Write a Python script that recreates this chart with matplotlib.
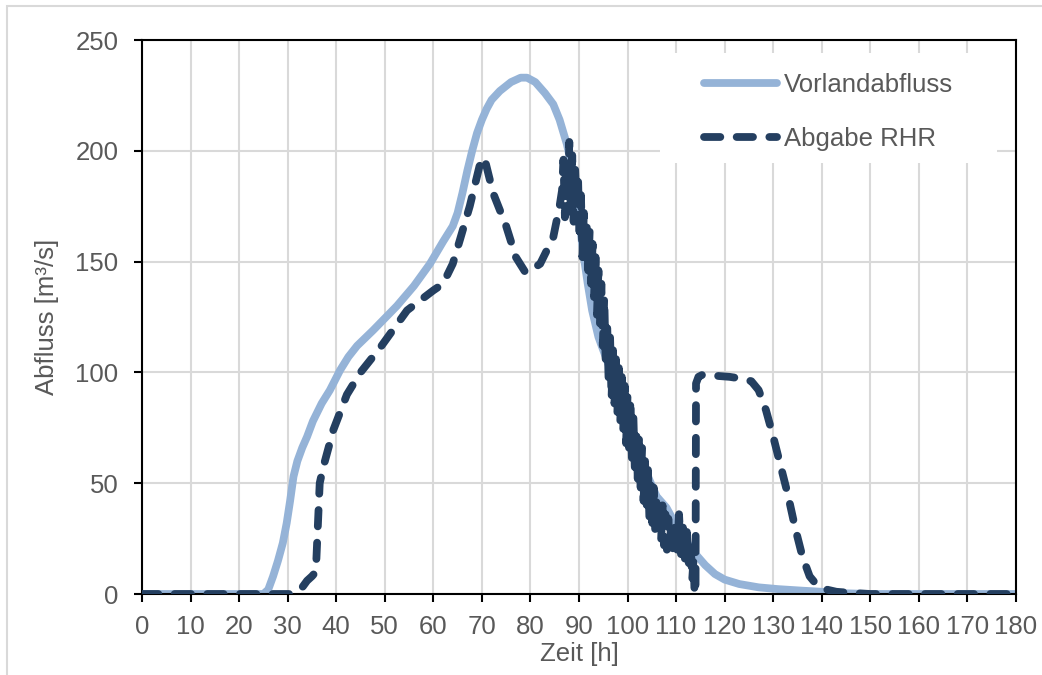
import matplotlib
matplotlib.use("Agg")
import matplotlib.pyplot as plt
from matplotlib.patches import Rectangle
from matplotlib.lines import Line2D

plt.rcParams["font.family"] = ["Liberation Sans", "DejaVu Sans"]

# Vorlandabfluss (Stunden, m³/s)
vorland_t = [0, 25, 26, 27, 28, 29, 29.8, 30.5, 31.2, 32, 33, 34, 35.2, 37,
             38.7, 40.8, 42.5, 44.3, 47.6, 52.5, 56, 59.3, 62, 64, 65, 66, 67,
             68, 69, 70, 71, 72, 73.7, 76, 78, 79.3, 81, 83, 84.7, 86, 87.5,
             88.5, 90, 90.8, 91.8, 92.7, 94, 96, 98, 100, 102, 104, 106, 108,
             110, 112, 114, 116, 118, 120, 123, 127, 131, 136, 140, 145, 150,
             180]
vorland_q = [0, 0, 2, 8, 15, 23, 32, 42, 53, 60, 66, 71, 78, 86,
             92, 101, 107, 112, 119, 130, 139, 149, 159, 166, 172, 181, 191,
             200, 208, 214, 219, 223, 227, 231, 233, 233, 231, 226, 221, 214, 203,
             193, 170, 155, 140, 128, 116, 104, 92, 80, 67, 54, 44, 39,
             31, 24, 18, 13, 9, 6.5, 4.5, 3, 2.2, 1.5, 1, 0.3, 0,
             0]

# Abgabe RHR (Stunden, m³/s)
rhr_t = [0, 31, 32, 33, 34, 35, 35.8, 36.2, 36.6, 37.3, 39.4, 42.2, 45, 49,
         54.6, 60, 62, 64, 65.5, 67.5, 69.5, 70.5, 72.3, 75, 77, 79, 80, 82,
         84.7, 86.0, 86.5, 86.8, 87.1, 87.4, 87.7, 88.0, 88.3, 88.6, 88.9,
         89.2, 89.5, 89.8, 90.1, 90.4, 90.7, 91.0, 91.3, 91.6, 91.9, 92.2,
         92.5, 92.8, 93.1, 93.4, 93.7, 94.0, 94.3, 94.6, 94.9, 95.2, 95.5,
         95.8, 96.1, 96.4, 96.7, 97.0, 97.3, 97.6, 97.9, 98.2, 98.5, 98.8,
         99.1, 99.4, 99.7, 100.0, 100.3, 100.6, 100.9, 101.2, 101.5, 101.8,
         102.1, 102.4, 102.7, 103.0, 103.3, 103.6, 103.9, 104.2, 104.5,
         104.8, 105.1, 105.4, 105.7, 106.0, 106.3, 106.6, 106.9, 107.2,
         107.5, 107.8, 108.1, 108.4, 108.7, 109.0, 109.4, 109.8, 110.2,
         110.6, 111.0, 111.4, 111.8, 112.2, 112.6, 113.0, 113.3, 113.6,
         113.8, 114.0, 114.1, 114.6, 115.5, 118, 121, 124, 125.5, 127, 128.5,
         130, 131.5, 133, 134.5, 136, 137.5, 139, 141, 143, 146, 150, 180]
rhr_q = [0, 0, 1, 3, 6, 8, 10, 30, 50, 57, 74, 90, 100, 111,
         128, 137, 140, 149, 160, 175, 193, 197, 181, 166, 152, 145, 146, 149,
         161, 175, 182, 196, 170, 192, 178, 204, 172, 198, 168,
         192, 176, 188, 160, 180, 152, 172, 150, 166, 146, 164,
         140, 158, 134, 152, 126, 146, 122, 140, 112, 134, 104,
         122, 96, 116, 88, 110, 86, 106, 82, 102, 78, 98,
         74, 94, 68, 90, 66, 88, 60, 80, 56, 74,
         52, 72, 48, 66, 42, 60, 38, 56, 34,
         52, 32, 48, 28, 44, 28, 42, 24, 40,
         22, 36, 20, 34, 22, 32, 18, 30, 20,
         36, 18, 30, 16, 28, 14, 24, 6, 16,
         0, 0, 95, 98, 99, 98.5, 98, 97, 96, 92, 83,
         71, 58, 45, 30, 17, 8, 4, 2, 1, 0.5, 0, 0]

x_ticks = list(range(0, 181, 10))
y_ticks = [0, 50, 100, 150, 200, 250]

text_gray = "#595959"
light_blue = "#95B3D7"
dark_blue = "#243F60"
line_w = 5.6
dash = (0, (2.1, 2.1))

fig = plt.figure(figsize=(10.42, 6.75), dpi=100)
ax = fig.add_axes([142 / 1042, 81 / 675, 874 / 1042, 554 / 675])

# outer chart border (left and top visible)
fig.add_artist(Rectangle((7 / 1042, -0.1), 1.2, 0.1 + 669 / 675,
                         transform=fig.transFigure, fill=False,
                         edgecolor="#D9D9D9", linewidth=1.5))

ax.plot(vorland_t, vorland_q, color=light_blue, linewidth=line_w,
        solid_capstyle="round", solid_joinstyle="round", zorder=2,
        label="Vorlandabfluss")
ax.plot(rhr_t, rhr_q, color=dark_blue, linewidth=line_w, linestyle=dash,
        dash_capstyle="round", dash_joinstyle="round", zorder=3,
        label="Abgabe RHR")

ax.set_xlim(0, 180)
ax.set_ylim(0, 250)
ax.set_xticks(x_ticks)
ax.set_yticks(y_ticks)
ax.set_axisbelow(True)
ax.grid(True, color="#D9D9D9", linewidth=1.5)
for s in ax.spines.values():
    s.set_color("black")
    s.set_linewidth(1.5)
ax.tick_params(axis="both", direction="out", length=6, width=1.5,
               color="black", labelcolor=text_gray, labelsize=18.5)
ax.tick_params(axis="x", pad=9)
ax.tick_params(axis="y", pad=11)

ax.set_xlabel("Zeit [h]", fontsize=18.5, color=text_gray, labelpad=2)
ax.set_ylabel("Abfluss [m³/s]", fontsize=18.5, color=text_gray, labelpad=12)

# white area behind legend hides the grid
ax.add_patch(Rectangle((0.593, 0.778), 0.385, 0.1985, transform=ax.transAxes,
                       facecolor="white", edgecolor="none", zorder=1))

handles = [Line2D([], [], color=light_blue, linewidth=line_w, solid_capstyle="round"),
           Line2D([], [], color=dark_blue, linewidth=line_w, linestyle=dash,
                  dash_capstyle="round")]
leg = ax.legend(handles, ["Vorlandabfluss", "Abgabe RHR"], loc="upper left",
                bbox_to_anchor=(0.643, 0.941), frameon=False, fontsize=18.5,
                handlelength=2.85, handletextpad=0.25, labelspacing=1.18,
                borderpad=0, borderaxespad=0)
for t in leg.get_texts():
    t.set_color(text_gray)

fig.savefig("out.png", dpi=100)
